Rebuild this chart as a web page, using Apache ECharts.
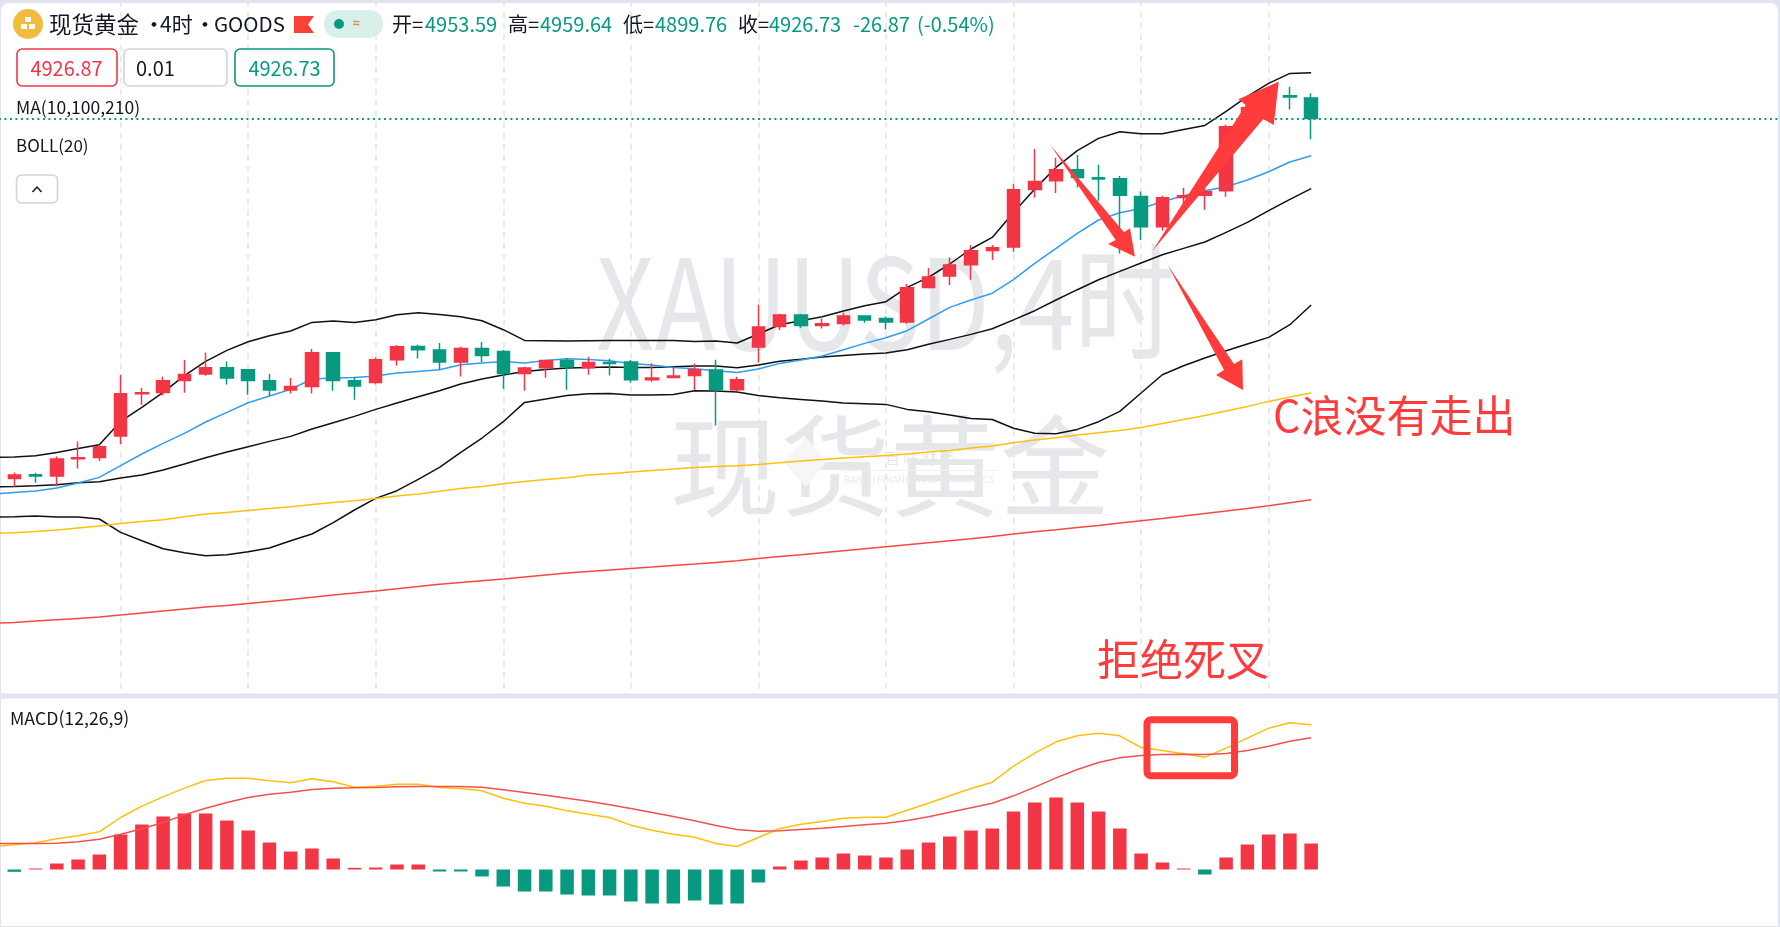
<!DOCTYPE html>
<html><head><meta charset="utf-8">
<style>html,body{margin:0;padding:0;background:#e1e4ee;overflow:hidden}#c{width:1780px;height:927px}</style>
<script src="https://cdn.jsdelivr.net/npm/echarts@6/dist/echarts.min.js"></script>
</head><body><div id="c"></div>
<script>
// Each line array starts with one off-screen bar to the left of the first visible candle.
const bollUpper=[4486.3,4486.8,4488.5,4492.8,4498,4502.8,4533.1,4551.3,4570.8,4592.5,4611.1,4625.4,4636.7,4644.5,4650.6,4661.8,4663.6,4661.8,4665.3,4671.8,4674.4,4672.2,4669.2,4664,4652.3,4638.4,4638,4637.6,4638,4638.4,4638.4,4638.4,4638.4,4637.1,4637.6,4635,4646.7,4658.8,4664,4669.2,4676.6,4683.5,4688.7,4707.3,4720.3,4737.7,4757.2,4772.3,4804.8,4835.2,4863.3,4885,4901,4909.7,4907.1,4907.1,4912.7,4917.9,4936.1,4955.6,4972.5,4985.5,4986.4];
const bollMid=[4447.8,4448.6,4449.5,4450.8,4453.4,4454.7,4459.5,4463.4,4469.9,4477.7,4485.9,4493.3,4500.2,4507.1,4513.6,4523.2,4531.4,4539.6,4548.7,4557,4565.2,4573,4581.7,4588.2,4593.4,4598.1,4600.7,4602.5,4603.3,4603.8,4603.3,4603.3,4604.2,4605.1,4605.1,4602.9,4606.4,4611.3,4613.9,4616.7,4618.9,4620.7,4621.9,4626.3,4633.4,4639.7,4646.2,4653.6,4665,4677,4690.9,4704.3,4717.3,4728.1,4739,4749.8,4758,4766.3,4778.8,4791.8,4807,4821.7,4835.6];
const bollLower=[4408.8,4409.2,4410.1,4408.8,4408.8,4406.2,4388.8,4378,4367.6,4362.4,4358.5,4359.8,4363.7,4368.5,4378,4386.7,4401.4,4417.9,4433,4443,4457.7,4473.2,4492.8,4511.5,4532.7,4557.8,4562.2,4566.9,4569.1,4569.5,4567.4,4567.4,4568.2,4573,4572.6,4571.3,4566.9,4563.9,4561.7,4559.6,4557,4556.1,4555.2,4548.7,4545.7,4541.5,4536.9,4535.6,4524.1,4517.7,4517.1,4522.7,4532.7,4546.1,4570,4593.8,4605.5,4615.5,4625,4633.7,4642.3,4658.8,4684.4];
const ma10=[4438.7,4440.8,4442.6,4446.5,4453,4460.3,4475.5,4490.7,4504.5,4517.5,4532.3,4544.8,4557.4,4566.1,4574.7,4588.2,4589.5,4590.3,4592.1,4596,4598.1,4600.3,4606.8,4609,4611.1,4609,4612.4,4614.6,4613.7,4612,4608.5,4606.4,4603.3,4601.6,4599,4596.8,4601.2,4608.5,4612.9,4618.1,4626.3,4634.5,4641.9,4651,4666.2,4681.3,4690.9,4699.7,4717.3,4738.5,4758,4777.5,4794.9,4804.4,4810,4818.7,4826.5,4833,4838.2,4846.9,4857.7,4870.3,4878.5];
const ma100=[4388,4388.4,4390.1,4391.9,4394.5,4397.1,4400.5,4403.1,4405.3,4409.2,4412.7,4414.8,4417.4,4420,4422.2,4425.2,4427.8,4430,4433,4436.1,4438.7,4442.3,4446,4448.6,4452.1,4455.1,4457.7,4459.9,4463.4,4465.1,4467.3,4469.4,4471.2,4473.3,4474.6,4475.5,4477.2,4479.4,4481.6,4483.7,4485.5,4487.2,4488.9,4490.7,4493.3,4495.4,4498.5,4501.1,4505.4,4508.9,4511.9,4515.4,4518.4,4521.4,4525.3,4530.5,4535.7,4540.9,4546.6,4552.6,4559.1,4564.8,4570];
const ma210=[4270.5,4271.8,4273.6,4275.3,4277,4278.8,4281.4,4284,4286.6,4289.2,4291.8,4293.9,4296.5,4299.1,4301.7,4304.5,4307.4,4310,4312.6,4315.6,4318.6,4321.4,4323.8,4326,4328.2,4330.8,4333.4,4336,4338.1,4339.9,4342,4343.8,4345.9,4347.7,4349.8,4352,4355,4357.6,4359.8,4362.4,4365,4367.6,4370.2,4372.8,4375.4,4378,4380.6,4383.6,4386.7,4389.7,4392.3,4395.3,4397.9,4401,4404,4407,4410.1,4413.5,4416.6,4420,4423.5,4427.4,4431.3];
// [open, close, low, high]
const candles=[
[4459,4463.4,4448.2,4466.8],[4463.8,4462.1,4453.4,4466.4],[4462.1,4484.2,4448.6,4487.6],[4484.6,4485.9,4472,4507.1],[4486.3,4500.2,4482,4501.5],
[4514.1,4569.1,4503.7,4593.8],[4569.1,4570.4,4554.8,4576.5],[4570.8,4586,4566.9,4591.2],[4586.4,4594.2,4570.4,4612.9],[4594.7,4602.9,4592.5,4622.8],
[4602.9,4589.5,4581.2,4611.1],[4600.3,4586.4,4567.8,4600.3],[4586,4573.9,4566.1,4594.7],[4573.9,4578.6,4569.5,4589.5],[4578.6,4622.4,4569.5,4627.2],
[4622.4,4586.4,4573,4622.4],[4586,4579.1,4561.3,4591.2],[4583.8,4613.3,4581.2,4616.3],[4613.3,4630.2,4605.9,4632.4],[4630.6,4626.3,4615,4632.8],
[4625.9,4610.3,4599.9,4635],[4610.3,4628,4591.6,4630.2],[4628,4618.9,4610.3,4636.3],[4624.1,4595.5,4575.6,4625.9],[4595.5,4602.5,4573,4604.2],
[4602.9,4612.4,4589.9,4612.4],[4612.4,4604.2,4574.3,4615.5],[4602.9,4609.8,4593.8,4617.2],[4609.8,4608.5,4592.9,4614.6],[4610.3,4587.3,4583.4,4612.9],
[4587.3,4589.5,4584.7,4608.5],[4590.3,4592.1,4589.5,4604.2],[4592.9,4600.3,4573.9,4608.5],[4599.9,4574.7,4527.9,4613.3],[4574.3,4587.3,4572.6,4591.2],
[4629.8,4655.8,4609.8,4684.8],[4656.6,4671.4,4651.9,4673.1],[4671.4,4657.9,4654.9,4673.1],[4657.9,4660.1,4654,4667],[4660.5,4670.1,4657.9,4674.4],
[4670.1,4664.9,4661.4,4670.1],[4667,4662.3,4652.7,4669.6],[4662.3,4706.9,4660.1,4711.7],[4707.3,4720.8,4706,4732.5],[4722.1,4736.4,4710.4,4746.3],
[4736.8,4755,4717.3,4762.4],[4755.4,4758.9,4742.9,4762.4],[4759.8,4834.3,4753.7,4842.1],[4834.7,4845.1,4824.3,4887.2],[4846,4860.3,4830,4875.5],
[4860.3,4850.3,4837.3,4879.4],[4849.9,4848.2,4820,4866.8],[4848.6,4827,4751.5,4852.1],[4825.6,4786.2,4768.9,4832.1],[4786.2,4823.9,4781,4826.5],
[4824.3,4826.5,4811.3,4836.9],[4827,4832.1,4808.3,4837.3],[4833,4916.2,4825.2,4918.8],[4916.2,4940.9,4913.6,4944.8],[4933.1,4948.7,4926.6,4956.5],
[4956.5,4954.8,4938.7,4968.2],[4953.59,4926.73,4899.76,4959.64]];
const lastClose=4926.73;
const macdHist=[-0.7,0.3,1.8,3,4.5,10.5,13.5,15.9,16.8,16.8,14.7,11.7,8.1,5.4,6.3,3.3,0.5,0.6,1.5,1.5,-0.6,-0.6,-2.1,-5.1,-6.6,-6.6,-7.5,-7.8,-7.8,-9.6,-10.2,-10.2,-9.3,-10.5,-10.2,-3.9,0.9,2.7,3.6,4.8,4.2,3.6,6,8.1,9.9,11.7,12.3,17.4,20.1,21.6,20.1,17.4,12.3,4.8,2.1,0.3,-1.5,3.6,7.5,10.5,10.8,7.8];
const macdDif=[6.9,7.4,8,9.2,10.1,11.3,15.6,19,21.8,24.4,26.7,27.4,27.4,26.6,26,27.2,26.3,24.7,25,25.6,25.6,24.6,24.3,23.6,21.4,19.9,19,17.6,16.6,15.6,13.3,11.8,10.6,9.7,7.8,6.9,9.6,12.3,13.6,14.4,15.4,15.7,15.7,17.8,19.9,22.1,24.3,26.2,31,34.9,38.3,40.1,40.9,40.1,36.6,35.7,34.7,33.7,36.4,39.4,42.4,44,43.4];
const macdDea=[7.8,7.8,7.8,7.9,8.3,9.1,10.6,12.2,14.1,16.4,18.4,20.1,21.6,22.6,23.2,24,24.4,24.5,24.6,24.8,24.9,24.9,24.9,24.7,23.9,23.1,22.3,21.4,20.5,19.4,18.3,17.1,15.9,14.6,13.2,12,11.5,11.6,12,12.4,12.9,13.4,13.9,14.7,15.8,17.2,18.5,19.9,22.1,24.7,27.5,30,32.1,33.5,34.2,34.5,34.6,34.5,34.8,35.7,37,38.5,39.5];

const UP='#f23645',DOWN='#089981',ARROW='#ff3b3b',CJK='"Noto Sans CJK SC","Noto Sans",sans-serif';
const categories=Array.from({length:85},(_,i)=>String(i));
const STEP=21.26,LEFT=14.3-1.5*STEP;
const line=(name,data,color,xi,yi)=>({name,type:'line',data,xAxisIndex:xi,yAxisIndex:yi,symbol:'none',smooth:false,z:2,silent:true,lineStyle:{color,width:1.5},itemStyle:{color},animation:false});
const T=(text,x,y,size,fill,extra)=>({type:'text',z:50,silent:true,style:Object.assign({text,x,y,fill,font:size+'px '+CJK,textAlign:'left',textVerticalAlign:'middle'},extra||{})});
const poly=(pts,fill,z)=>({type:'polygon',z:z==null?60:z,silent:true,shape:{points:pts},style:{fill}});
const box=(x,y,w,h,stroke)=>({type:'rect',z:40,silent:true,shape:{x,y,width:w,height:h,r:5},style:{fill:'#fff',stroke,lineWidth:1.6}});

const graphics=[
 {type:'rect',z:-10,silent:true,shape:{x:1,y:3,width:1777,height:690.5,r:[8,8,0,0]},style:{fill:'#fff'}},
 {type:'rect',z:-10,silent:true,shape:{x:1,y:698.5,width:1777,height:227.5},style:{fill:'#fff'}},
 // watermark
 {type:'text',z:-5,silent:true,x:596,y:302,scaleX:0.805,style:{text:'XAUUSD,4时',x:0,y:0,fill:'#e6e7ea',font:'126px '+CJK,textAlign:'left',textVerticalAlign:'middle'}},
 {type:'text',z:-5,silent:true,style:{text:'现货黄金',x:890,y:466,fill:'#e6e7ea',font:'110px '+CJK,textAlign:'center',textVerticalAlign:'middle'}},
 poly([[784,462],[806,437],[826,462],[806,487]],'#f6f6f8',-4),
 {type:'text',z:-3,silent:true,style:{text:'百 味 财 经',x:920,y:458,fill:'#e6e7ea',font:'15px '+CJK,textAlign:'center',textVerticalAlign:'middle'}},
 {type:'rect',z:-3,silent:true,shape:{x:841,y:470,width:157,height:1},style:{fill:'#f0f0f2'}},
 {type:'text',z:-3,silent:true,style:{text:'BAIWEI FINANCE AND ECONOMICS',x:919,y:479,fill:'#e8e9ec',font:'9.5px '+CJK,textAlign:'center',textVerticalAlign:'middle'}},
 // header
 {type:'circle',z:40,silent:true,shape:{cx:28,cy:24,r:15},style:{fill:'#f2bb3f'}},
 {type:'rect',z:41,silent:true,shape:{x:25,y:17,width:6,height:5},style:{fill:'#fff'}},
 {type:'rect',z:41,silent:true,shape:{x:21,y:24,width:6,height:5},style:{fill:'#fff'}},
 {type:'rect',z:41,silent:true,shape:{x:29,y:24,width:6,height:5},style:{fill:'#fff'}},
 T('现货黄金',49,24,22.5,'#131722'),T('•',143,24,22,'#131722'),T('4时',160,24,21,'#131722'),
 T('•',194,24,22,'#131722'),T('GOODS',214,24,20.5,'#131722'),
 poly([[294,16],[314,16],[308,24.5],[314,33],[294,33]],'#f9413a',41),
 {type:'rect',z:40,silent:true,shape:{x:324,y:10,width:59,height:28,r:14},style:{fill:'#d8efea'}},
 {type:'circle',z:41,silent:true,shape:{cx:339,cy:24,r:5},style:{fill:DOWN}},
 T('≈',353,24,32,'#f5784e',{fontWeight:'bold'}),
 T('开=',392,24,20,'#131722'),T('4953.59',425,24,20,DOWN),
 T('高=',508,24,20,'#131722'),T('4959.64',540,24,20,DOWN),
 T('低=',623,24,20,'#131722'),T('4899.76',655,24,20,DOWN),
 T('收=',738,24,20,'#131722'),T('4926.73',769,24,20,DOWN),
 T('-26.87',853,24,20,DOWN),T('(-0.54%)',917,24,20,DOWN),
 box(17,49,100,37,UP),T('4926.87',66.5,68,20,UP,{textAlign:'center'}),
 box(124,49,103,37,'#d1d4dc'),T('0.01',136,68,20,'#131722'),
 box(235,49,99,37,DOWN),T('4926.73',284.5,68,20,DOWN,{textAlign:'center'}),
 T('MA(10,100,210)',16,107,17.5,'#131722'),
 T('BOLL(20)',16,146,17,'#131722'),
 box(16.5,175,41,28,'#d1d4dc'),
 {type:'polyline',z:41,silent:true,shape:{points:[[32.5,192],[37,187],[41.5,192]]},style:{stroke:'#131722',lineWidth:1.5,fill:null}},
 T('MACD(12,26,9)',10,718,17.7,'#131722'),
 // annotations
 poly([[1050.3,145],[1124,232.3],[1130,228.3],[1135,256.7],[1108,244],[1115.7,240]],ARROW),
 poly([[1152.3,251],[1245.7,105],[1238.3,99.3],[1278.7,81.7],[1273.7,125],[1263.3,119]],ARROW),
 poly([[1167.7,265],[1234,364],[1242.3,359.3],[1243,390],[1216,375],[1224,370]],ARROW),
 {type:'rect',z:60,silent:true,shape:{x:1147,y:719.7,width:87.5,height:56,r:4},style:{fill:null,stroke:ARROW,lineWidth:7}},
 T('C浪没有走出',1273,416,43,ARROW,{}),
 T('拒绝死叉',1097,660,43,ARROW,{}),
];

const chart=echarts.init(document.getElementById('c'),null,{renderer:'canvas'});
chart.setOption({
 animation:false,
 backgroundColor:'transparent',
 graphic:{elements:graphics},
 tooltip:{show:false},
 grid:[
  {left:LEFT,top:0.7,width:STEP*85,height:692,outerBoundsMode:'none',containLabel:false},
  {left:LEFT,top:699.5,width:STEP*85,height:227,outerBoundsMode:'none',containLabel:false}
 ],
 xAxis:[
  {type:'category',gridIndex:0,data:categories,boundaryGap:true,axisLine:{show:false},axisTick:{show:false},axisLabel:{show:false},
   splitLine:{show:true,alignWithLabel:true,interval:(idx)=>idx>0&&idx<=60&&idx%6===0,lineStyle:{color:'#e0e3eb',width:1.5,type:[6,5]}}},
  {type:'category',gridIndex:1,data:categories,boundaryGap:true,axisLine:{show:false},axisTick:{show:false},axisLabel:{show:false},splitLine:{show:false}}
 ],
 yAxis:[
  {type:'value',gridIndex:0,min:4180.4,max:5080,show:false,splitLine:{show:false}},
  {type:'value',gridIndex:1,min:-17.1,max:51,show:false,splitLine:{show:false}}
 ],
 series:[
  line('BOLL上轨',bollUpper,'#111',0,0),
  line('BOLL中轨',bollMid,'#111',0,0),
  line('BOLL下轨',bollLower,'#111',0,0),
  line('MA10',ma10,'#2f9df4',0,0),
  line('MA100',ma100,'#fcc10a',0,0),
  line('MA210',ma210,'#f7483f',0,0),
  {name:'K线',type:'candlestick',xAxisIndex:0,yAxisIndex:0,z:5,silent:true,barWidth:13,
   data:[['-','-','-','-']].concat(candles),
   itemStyle:{color:UP,color0:DOWN,borderColor:UP,borderColor0:DOWN,borderWidth:1.5},
   markLine:{silent:true,symbol:'none',label:{show:false},animation:false,
    lineStyle:{color:DOWN,width:2,type:[2,3.5]},data:[{yAxis:lastClose}]}},
  {name:'MACD柱',type:'bar',xAxisIndex:1,yAxisIndex:1,barWidth:13.5,silent:true,z:2,
   data:['-'].concat(macdHist.map(v=>({value:v,itemStyle:{color:v>=0?UP:DOWN}})))},
  line('DIF',macdDif,'#fcc10a',1,1),
  line('DEA',macdDea,'#f5504f',1,1),
 ]
});
</script></body></html>
